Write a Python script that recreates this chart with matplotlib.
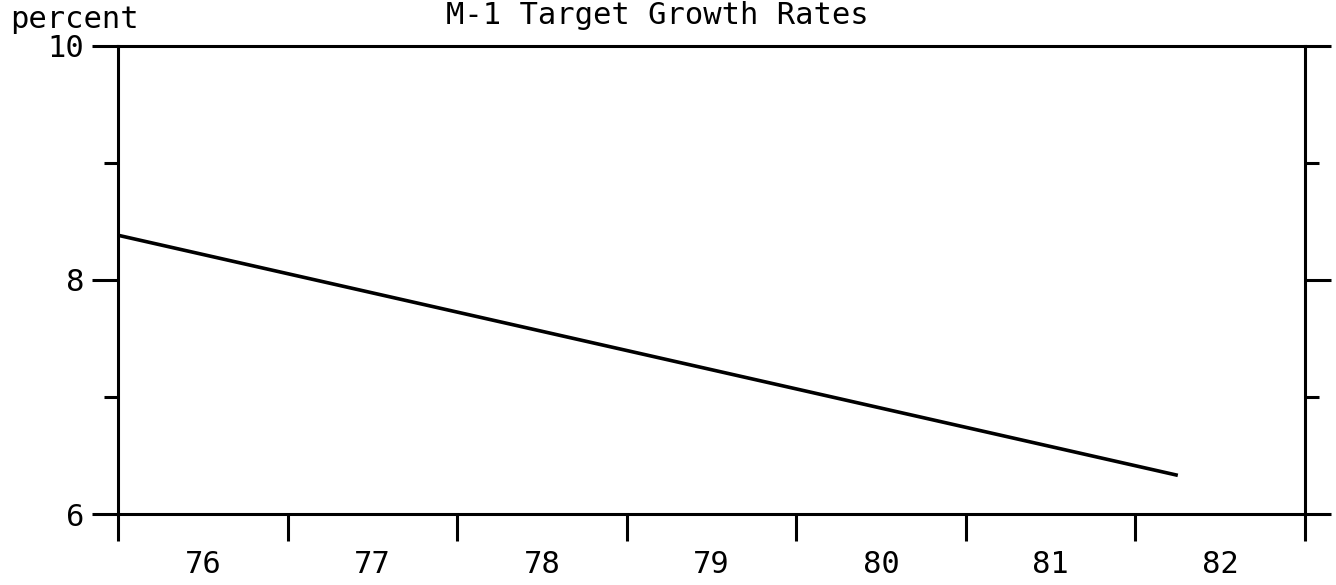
import matplotlib
matplotlib.use("Agg")
import matplotlib.pyplot as plt
from matplotlib.ticker import FixedLocator, NullFormatter, FixedFormatter

# Data
years = [1976.0, 1982.25]
target_growth = [8.38, 6.33]
year_labels = ["76", "77", "78", "79", "80", "81", "82"]
year_starts = [1976, 1977, 1978, 1979, 1980, 1981, 1982, 1983]
y_major = [6, 8, 10]
y_minor = [7, 9]

plt.rcParams['font.family'] = ['DejaVu Sans Mono']
FS = 22

fig = plt.figure(figsize=(13.36, 5.85), dpi=100)
ax = fig.add_axes([118/1336, 1 - 514/585, (1305-118)/1336, (514-45.5)/585])

ax.plot(years, target_growth, color='black', lw=2.6, solid_capstyle='butt')

ax.set_xlim(1976, 1983)
ax.set_ylim(6, 10)

for s in ax.spines.values():
    s.set_linewidth(2.2)

# x ticks: major at year boundaries (no labels), labels at mid-year (no tick marks)
ax.xaxis.set_major_locator(FixedLocator(year_starts))
ax.xaxis.set_major_formatter(NullFormatter())
ax.xaxis.set_minor_locator(FixedLocator([y + 0.5 for y in year_starts[:-1]]))
ax.xaxis.set_minor_formatter(FixedFormatter(year_labels))
ax.tick_params(axis='x', which='major', direction='out', length=19.5, width=2.2)
ax.tick_params(axis='x', which='minor', length=0, pad=26, labelsize=FS)

# y ticks
ax.yaxis.set_major_locator(FixedLocator(y_major))
ax.yaxis.set_minor_locator(FixedLocator(y_minor))
ax.yaxis.set_minor_formatter(NullFormatter())
ax.tick_params(axis='y', which='major', direction='out', length=18.5, width=2.2,
               left=True, right=True, labelleft=True, labelright=False,
               pad=6, labelsize=FS)
ax.tick_params(axis='y', which='minor', direction='out', length=10, width=2.2,
               left=True, right=True)

fig.text(10/1336, 1 - 28/585, "percent", fontsize=FS, ha='left', va='baseline')
fig.text(657/1336, 1 - 24/585, "M-1 Target Growth Rates", fontsize=FS, ha='center', va='baseline')

fig.savefig("out.png", dpi=100, facecolor='white')
